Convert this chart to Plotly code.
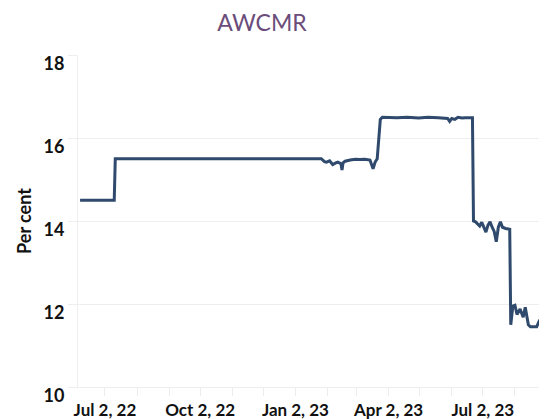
import plotly.graph_objects as go

dates = [
    "2022-06-08", "2022-07-11", "2022-07-12", "2023-01-27", "2023-01-30",
    "2023-02-01", "2023-02-04", "2023-02-07", "2023-02-10", "2023-02-12",
    "2023-02-15", "2023-02-16", "2023-02-17", "2023-02-19", "2023-02-24",
    "2023-03-01", "2023-03-05", "2023-03-10", "2023-03-15", "2023-03-17",
    "2023-03-18", "2023-03-20", "2023-03-22", "2023-03-25", "2023-03-27",
    "2023-04-10", "2023-04-20", "2023-05-01", "2023-05-10", "2023-05-20",
    "2023-05-29", "2023-05-31", "2023-06-02", "2023-06-05", "2023-06-08",
    "2023-06-12", "2023-06-15", "2023-06-22", "2023-06-23", "2023-06-25",
    "2023-06-27", "2023-06-29", "2023-07-01", "2023-07-03", "2023-07-05",
    "2023-07-07", "2023-07-09", "2023-07-11", "2023-07-13", "2023-07-15",
    "2023-07-17", "2023-07-19", "2023-07-21", "2023-07-24", "2023-07-28",
    "2023-07-29", "2023-07-31", "2023-08-02", "2023-08-04", "2023-08-07",
    "2023-08-10", "2023-08-12", "2023-08-15", "2023-08-17", "2023-08-23",
    "2023-08-26", "2023-08-28", "2023-08-31", "2023-09-02",
]
awcmr = [
    14.50, 14.50, 15.50, 15.50, 15.43,
    15.42, 15.45, 15.36, 15.40, 15.42,
    15.38, 15.23, 15.40, 15.44, 15.47,
    15.49, 15.48, 15.49, 15.47, 15.35,
    15.26, 15.42, 15.50, 16.45, 16.50,
    16.49, 16.50, 16.48, 16.50, 16.49,
    16.47, 16.40, 16.47, 16.45, 16.50,
    16.48, 16.49, 16.49, 14.00, 13.98,
    13.94, 13.88, 13.97, 13.84, 13.73,
    13.90, 13.98, 13.85, 13.75, 13.50,
    13.85, 13.98, 13.85, 13.82, 13.80,
    11.50, 11.95, 11.97, 11.75, 11.88,
    11.68, 11.92, 11.50, 11.45, 11.45,
    11.62, 11.42, 11.62, 11.58,
]

title_text = "AWCMR"
y_title = "Per cent"
x_range = ["2022-06-06", "2023-09-02"]
y_range = [10, 18]

grid = "#eeeeee"

# the page adds an 8px body margin, so the figure is 8px smaller
W, H = 539, 411

fig = go.Figure()
fig.add_trace(go.Scatter(
    x=dates, y=awcmr, mode="lines",
    line=dict(color="#2f4a6d", width=3),
    showlegend=False, hoverinfo="x+y",
))

fig.update_layout(
    width=W, height=H,
    margin=dict(l=70, r=0, t=47, b=32, autoexpand=False),
    paper_bgcolor="white", plot_bgcolor="white",
    title=dict(text=title_text, x=254 / W, xanchor="center",
               y=1 - 15 / H, yanchor="middle",
               font=dict(family="Lato", size=23, color="#6b4c7a")),
    font=dict(family="Lato", color="#111111"),
)
fig.update_xaxes(
    type="date", range=x_range, automargin=False,
    tick0="2022-07-02", dtick="M3", tickformat="%b %-d, %y",
    ticks="outside", ticklen=8, tickcolor=grid,
    minor=dict(dtick="M1", tick0="2022-07-02", ticks="outside", ticklen=8,
               tickcolor=grid, showgrid=False),
    showgrid=False, zeroline=False, showline=True, linecolor=grid,
    tickfont=dict(family="Lato", size=17, weight="bold", color="#111111"),
    ticklabelstandoff=0,
)
fig.update_yaxes(
    range=y_range, dtick=2, tick0=10, automargin=False,
    showgrid=True, gridcolor=grid, gridwidth=1,
    ticks="outside", ticklen=9, tickcolor=grid,
    showline=True, linecolor=grid, zeroline=False,
    tickfont=dict(family="Lato", size=18, weight="bold", color="#111111"),
    ticklabelshift=9,
    title=dict(text=y_title, standoff=7,
               font=dict(family="Lato", size=18, weight="bold", color="#111111")),
)

fig.write_html("out.html")
